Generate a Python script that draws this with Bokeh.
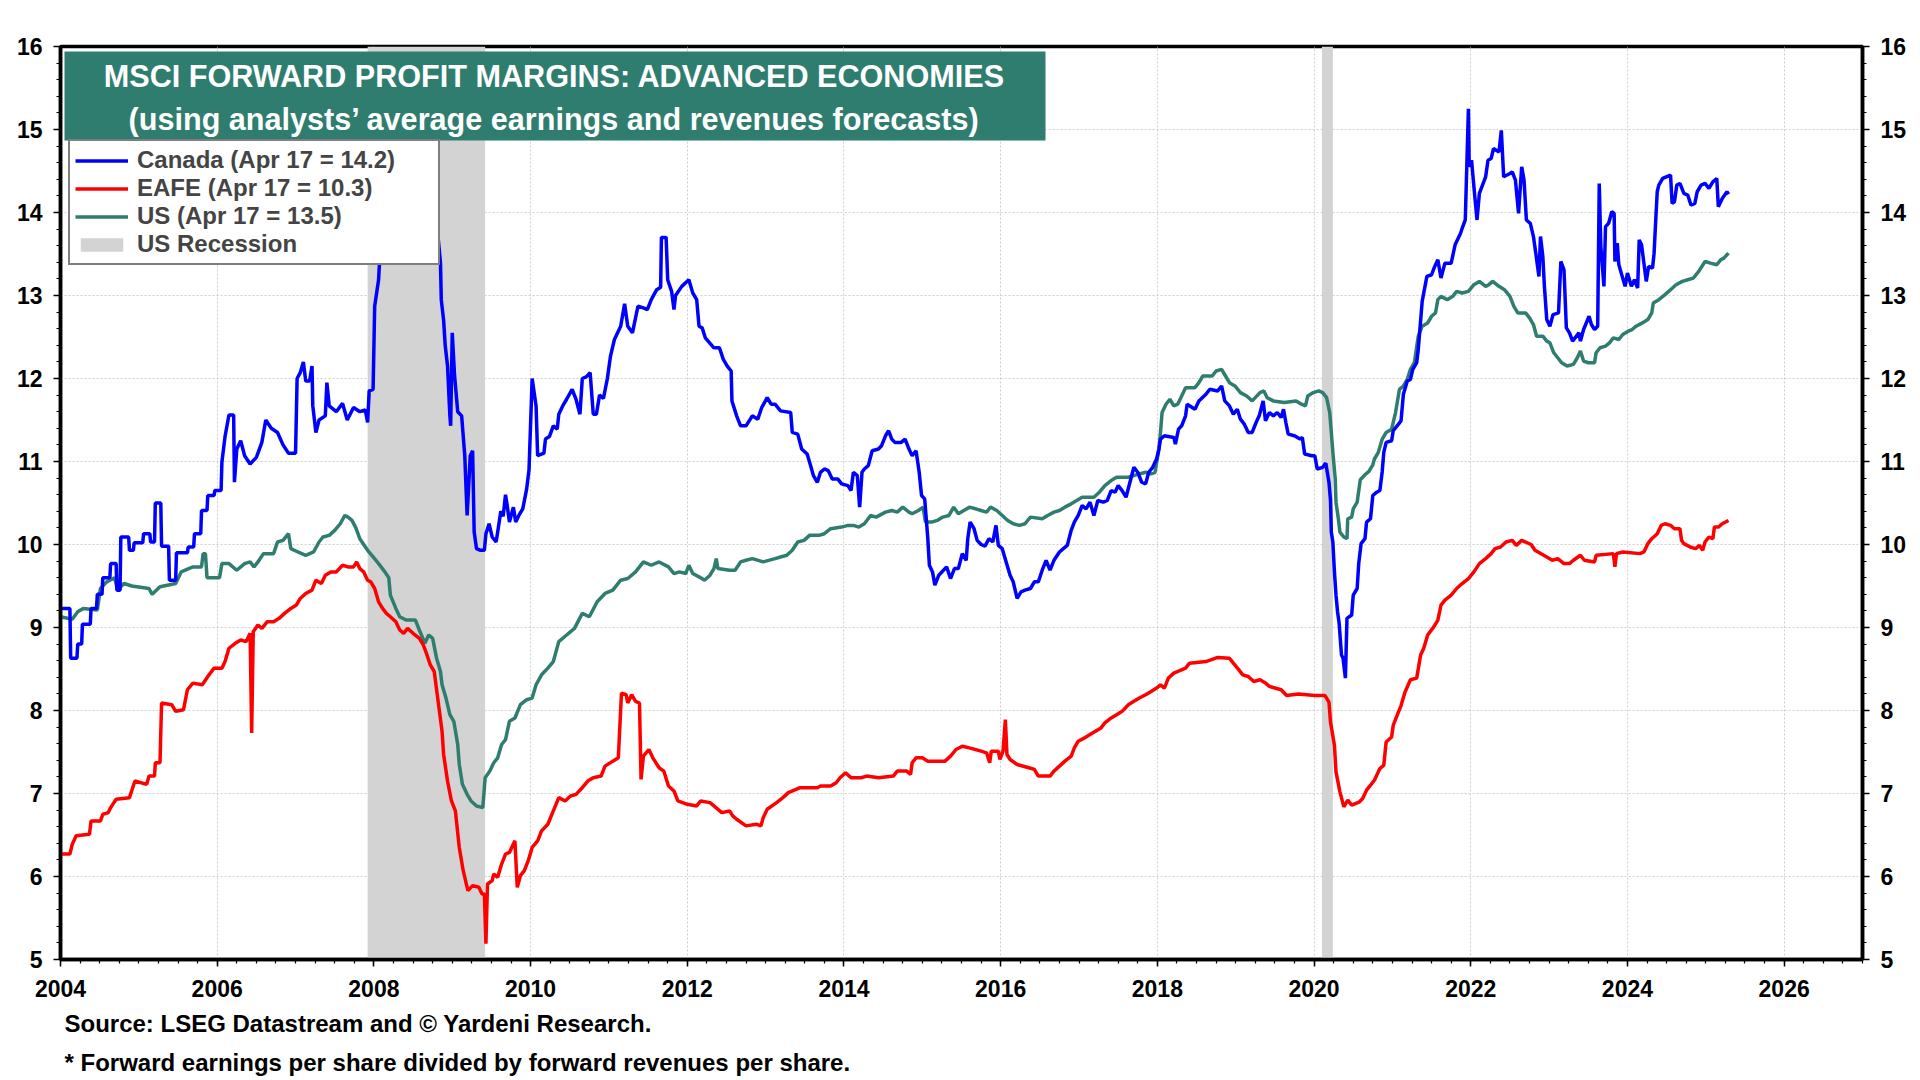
from bokeh.plotting import figure
from bokeh.models import (Label, Legend, LegendItem, LinearAxis, FixedTicker,
                          BoxAnnotation, Range1d, Title)
from bokeh.embed import file_html
from bokeh.resources import INLINE

# ---- data ----
canada_year = [
    2004.00, 2004.12, 2004.13, 2004.21, 2004.22, 2004.27, 2004.28, 2004.38, 2004.39, 2004.46,
    2004.47, 2004.53, 2004.54, 2004.63, 2004.64, 2004.71, 2004.72, 2004.76, 2004.77, 2004.87,
    2004.88, 2004.93, 2004.94, 2005.05, 2005.06, 2005.14, 2005.15, 2005.20, 2005.21, 2005.28,
    2005.29, 2005.38, 2005.39, 2005.47, 2005.48, 2005.62, 2005.63, 2005.70, 2005.71, 2005.79,
    2005.80, 2005.87, 2005.88, 2005.96, 2005.97, 2006.05, 2006.06, 2006.10, 2006.15, 2006.21,
    2006.22, 2006.25, 2006.30, 2006.35, 2006.42, 2006.50, 2006.57, 2006.62, 2006.69, 2006.77,
    2006.84, 2006.91, 2007.00, 2007.02, 2007.06, 2007.10, 2007.13, 2007.18, 2007.21, 2007.22,
    2007.26, 2007.30, 2007.38, 2007.40, 2007.43, 2007.52, 2007.60, 2007.66, 2007.74, 2007.82,
    2007.89, 2007.92, 2007.94, 2007.99, 2008.01, 2008.06, 2008.10, 2008.20, 2008.35, 2008.50,
    2008.65, 2008.80, 2008.85, 2008.86, 2008.89, 2008.91, 2008.94, 2008.97, 2008.98, 2009.00,
    2009.03, 2009.07, 2009.12, 2009.16, 2009.19, 2009.23, 2009.26, 2009.28, 2009.31, 2009.36,
    2009.41, 2009.43, 2009.47, 2009.51, 2009.56, 2009.58, 2009.62, 2009.65, 2009.68, 2009.70,
    2009.73, 2009.78, 2009.81, 2009.85, 2009.90, 2009.95, 2009.98, 2010.02, 2010.07, 2010.09,
    2010.17, 2010.19, 2010.24, 2010.29, 2010.34, 2010.36, 2010.41, 2010.46, 2010.53, 2010.58,
    2010.63, 2010.66, 2010.71, 2010.76, 2010.80, 2010.84, 2010.88, 2010.93, 2010.98, 2011.02,
    2011.07, 2011.15, 2011.20, 2011.24, 2011.30, 2011.37, 2011.44, 2011.49, 2011.54, 2011.61,
    2011.66, 2011.67, 2011.73, 2011.75, 2011.80, 2011.83, 2011.85, 2011.93, 2012.02, 2012.07,
    2012.12, 2012.15, 2012.19, 2012.23, 2012.34, 2012.41, 2012.46, 2012.51, 2012.56, 2012.57,
    2012.63, 2012.68, 2012.75, 2012.83, 2012.90, 2012.95, 2013.02, 2013.07, 2013.12, 2013.19,
    2013.32, 2013.34, 2013.41, 2013.46, 2013.53, 2013.58, 2013.61, 2013.66, 2013.70, 2013.75,
    2013.80, 2013.85, 2013.92, 2013.97, 2014.05, 2014.09, 2014.12, 2014.17, 2014.20, 2014.23,
    2014.26, 2014.31, 2014.36, 2014.44, 2014.48, 2014.53, 2014.57, 2014.61, 2014.65, 2014.73,
    2014.78, 2014.83, 2014.87, 2014.92, 2014.96, 2014.99, 2015.03, 2015.07, 2015.09, 2015.13,
    2015.16, 2015.21, 2015.31, 2015.36, 2015.41, 2015.46, 2015.51, 2015.56, 2015.58, 2015.61,
    2015.66, 2015.70, 2015.75, 2015.80, 2015.85, 2015.90, 2015.94, 2015.97, 2016.02, 2016.07,
    2016.12, 2016.16, 2016.21, 2016.26, 2016.31, 2016.38, 2016.43, 2016.48, 2016.53, 2016.58,
    2016.63, 2016.68, 2016.75, 2016.80, 2016.85, 2016.90, 2016.94, 2016.99, 2017.04, 2017.09,
    2017.14, 2017.19, 2017.24, 2017.31, 2017.36, 2017.41, 2017.46, 2017.50, 2017.55, 2017.60,
    2017.65, 2017.70, 2017.75, 2017.80, 2017.85, 2017.89, 2017.94, 2017.99, 2018.02, 2018.04,
    2018.09, 2018.21, 2018.23, 2018.27, 2018.31, 2018.36, 2018.38, 2018.48, 2018.53, 2018.62,
    2018.67, 2018.77, 2018.82, 2018.86, 2018.92, 2018.97, 2019.02, 2019.06, 2019.11, 2019.16,
    2019.21, 2019.26, 2019.30, 2019.35, 2019.38, 2019.43, 2019.48, 2019.53, 2019.58, 2019.61,
    2019.64, 2019.67, 2019.75, 2019.82, 2019.85, 2019.88, 2019.97, 2020.01, 2020.04, 2020.11,
    2020.15, 2020.19, 2020.21, 2020.22, 2020.24, 2020.26, 2020.28, 2020.30, 2020.32, 2020.35,
    2020.37, 2020.40, 2020.42, 2020.48, 2020.50, 2020.55, 2020.57, 2020.60, 2020.65, 2020.67,
    2020.72, 2020.75, 2020.80, 2020.84, 2020.87, 2020.89, 2020.92, 2020.99, 2021.01, 2021.06,
    2021.11, 2021.14, 2021.19, 2021.23, 2021.26, 2021.31, 2021.33, 2021.38, 2021.40, 2021.44,
    2021.50, 2021.54, 2021.58, 2021.62, 2021.67, 2021.75, 2021.80, 2021.87, 2021.89, 2021.93,
    2021.97, 2021.98, 2022.01, 2022.05, 2022.08, 2022.11, 2022.15, 2022.19, 2022.22, 2022.26,
    2022.29, 2022.36, 2022.39, 2022.42, 2022.50, 2022.53, 2022.57, 2022.61, 2022.65, 2022.68,
    2022.71, 2022.76, 2022.80, 2022.83, 2022.87, 2022.89, 2022.92, 2022.94, 2022.97, 2023.01,
    2023.05, 2023.12, 2023.15, 2023.19, 2023.22, 2023.26, 2023.30, 2023.38, 2023.40, 2023.44,
    2023.51, 2023.54, 2023.58, 2023.62, 2023.64, 2023.66, 2023.70, 2023.72, 2023.76, 2023.80,
    2023.83, 2023.84, 2023.87, 2023.89, 2023.97, 2024.00, 2024.05, 2024.09, 2024.13, 2024.15,
    2024.18, 2024.21, 2024.24, 2024.27, 2024.32, 2024.34, 2024.36, 2024.38, 2024.40, 2024.45,
    2024.55, 2024.57, 2024.60, 2024.63, 2024.67, 2024.72, 2024.77, 2024.81, 2024.86, 2024.89,
    2024.94, 2024.99, 2025.04, 2025.09, 2025.14, 2025.16, 2025.21, 2025.27, 2025.29,
]
canada_val = [
    9.23, 9.23, 8.63, 8.63, 8.80, 8.80, 9.04, 9.04, 9.23, 9.23,
    9.40, 9.40, 9.60, 9.60, 9.77, 9.77, 9.45, 9.45, 10.09, 10.09,
    9.93, 9.93, 10.02, 10.02, 10.13, 10.13, 10.03, 10.03, 10.50, 10.50,
    9.98, 9.98, 9.57, 9.57, 9.90, 9.90, 9.97, 9.97, 10.13, 10.13,
    10.41, 10.41, 10.59, 10.59, 10.65, 10.65, 10.99, 11.30, 11.56, 11.56,
    10.75, 11.15, 11.25, 11.07, 10.97, 11.05, 11.23, 11.50, 11.40, 11.35,
    11.20, 11.10, 11.10, 12.00, 12.07, 12.20, 11.97, 11.97, 12.15, 11.67,
    11.35, 11.50, 11.55, 11.95, 11.67, 11.60, 11.70, 11.50, 11.65, 11.60,
    11.62, 11.47, 11.85, 11.87, 12.87, 13.19, 13.90, 14.35, 14.60, 14.55,
    14.30, 13.90, 13.39, 12.95, 12.70, 12.40, 12.15, 11.55, 11.43, 12.55,
    12.03, 11.60, 11.55, 11.07, 10.35, 11.07, 11.13, 10.15, 9.95, 9.93,
    9.93, 10.13, 10.25, 10.09, 10.03, 10.15, 10.40, 10.34, 10.60, 10.48,
    10.27, 10.45, 10.27, 10.35, 10.43, 10.67, 10.90, 12.00, 11.67, 11.07,
    11.10, 11.27, 11.30, 11.43, 11.39, 11.57, 11.67, 11.75, 11.87, 11.75,
    11.57, 12.00, 12.02, 12.07, 11.57, 11.57, 11.80, 11.76, 12.00, 12.27,
    12.47, 12.63, 12.90, 12.63, 12.55, 12.87, 12.85, 12.83, 12.95, 13.07,
    13.10, 13.70, 13.70, 13.19, 13.05, 12.83, 13.00, 13.11, 13.19, 13.03,
    12.95, 12.63, 12.61, 12.49, 12.37, 12.37, 12.23, 12.15, 12.09, 11.73,
    11.55, 11.43, 11.43, 11.55, 11.51, 11.65, 11.77, 11.69, 11.69, 11.61,
    11.59, 11.35, 11.33, 11.15, 11.09, 10.93, 10.83, 10.75, 10.87, 10.91,
    10.89, 10.79, 10.79, 10.73, 10.71, 10.65, 10.87, 10.83, 10.45, 10.87,
    10.91, 10.95, 11.13, 11.15, 11.19, 11.31, 11.37, 11.27, 11.23, 11.23,
    11.27, 11.15, 11.07, 11.13, 10.87, 10.59, 10.55, 10.07, 9.75, 9.67,
    9.51, 9.63, 9.73, 9.59, 9.71, 9.71, 9.89, 9.81, 10.07, 10.27,
    10.19, 10.05, 10.00, 9.98, 10.07, 10.03, 10.23, 9.99, 9.95, 9.79,
    9.63, 9.55, 9.35, 9.43, 9.45, 9.47, 9.55, 9.55, 9.69, 9.81,
    9.69, 9.81, 9.91, 9.95, 9.99, 10.17, 10.27, 10.35, 10.47, 10.43,
    10.51, 10.35, 10.53, 10.51, 10.53, 10.65, 10.63, 10.71, 10.65, 10.57,
    10.75, 10.93, 10.87, 10.75, 10.73, 10.87, 10.93, 11.03, 11.15, 11.27,
    11.31, 11.29, 11.21, 11.39, 11.43, 11.55, 11.69, 11.63, 11.73, 11.81,
    11.87, 11.85, 11.91, 11.73, 11.67, 11.57, 11.63, 11.51, 11.45, 11.35,
    11.35, 11.47, 11.55, 11.73, 11.49, 11.59, 11.55, 11.59, 11.53, 11.63,
    11.47, 11.33, 11.31, 11.27, 11.29, 11.09, 11.07, 11.07, 10.91, 10.93,
    10.98, 10.75, 10.53, 10.15, 10.03, 9.67, 9.39, 9.19, 9.05, 8.67,
    8.63, 8.39, 9.11, 9.15, 9.39, 9.47, 9.77, 10.01, 10.07, 10.27,
    10.31, 10.59, 10.63, 10.65, 10.88, 11.11, 11.23, 11.25, 11.37, 11.43,
    11.49, 11.81, 11.97, 11.99, 12.11, 12.19, 12.35, 12.93, 13.03, 13.23,
    13.25, 13.35, 13.43, 13.21, 13.39, 13.39, 13.61, 13.75, 13.81, 13.91,
    15.25, 14.55, 14.63, 14.21, 13.91, 14.23, 14.33, 14.43, 14.63, 14.65,
    14.77, 14.73, 14.99, 14.43, 14.47, 14.49, 14.39, 13.99, 14.55, 14.39,
    13.91, 13.87, 13.71, 13.51, 13.23, 13.71, 13.47, 13.11, 12.71, 12.63,
    12.77, 12.79, 13.41, 13.31, 12.61, 12.55, 12.45, 12.55, 12.45, 12.59,
    12.75, 12.65, 12.59, 12.63, 14.35, 13.59, 13.11, 13.83, 13.87, 14.01,
    13.99, 13.41, 13.63, 13.37, 13.11, 13.27, 13.11, 13.19, 13.09, 13.67,
    13.61, 13.39, 13.17, 13.35, 13.33, 13.51, 13.89, 14.25, 14.33, 14.41,
    14.45, 14.11, 14.13, 14.33, 14.35, 14.23, 14.21, 14.09, 14.11, 14.25,
    14.33, 14.35, 14.29, 14.37, 14.41, 14.07, 14.17, 14.25, 14.22,
]

eafe_year = [
    2004.00, 2004.12, 2004.15, 2004.20, 2004.37, 2004.39, 2004.51, 2004.54, 2004.61, 2004.64,
    2004.71, 2004.88, 2004.95, 2005.10, 2005.13, 2005.20, 2005.21, 2005.27, 2005.29, 2005.42,
    2005.47, 2005.57, 2005.62, 2005.69, 2005.81, 2005.88, 2005.96, 2006.06, 2006.10, 2006.15,
    2006.23, 2006.30, 2006.37, 2006.42, 2006.44, 2006.46, 2006.52, 2006.57, 2006.64, 2006.72,
    2006.79, 2006.86, 2006.94, 2007.01, 2007.06, 2007.13, 2007.21, 2007.26, 2007.33, 2007.38,
    2007.45, 2007.52, 2007.60, 2007.67, 2007.74, 2007.78, 2007.82, 2007.87, 2007.92, 2007.96,
    2008.01, 2008.06, 2008.11, 2008.16, 2008.21, 2008.28, 2008.33, 2008.38, 2008.43, 2008.50,
    2008.58, 2008.63, 2008.67, 2008.72, 2008.77, 2008.82, 2008.87, 2008.89, 2008.94, 2008.99,
    2009.04, 2009.09, 2009.14, 2009.20, 2009.26, 2009.34, 2009.38, 2009.41, 2009.43, 2009.45,
    2009.51, 2009.53, 2009.58, 2009.63, 2009.68, 2009.73, 2009.80, 2009.83, 2009.87, 2009.92,
    2009.97, 2010.02, 2010.09, 2010.14, 2010.22, 2010.29, 2010.36, 2010.44, 2010.51, 2010.58,
    2010.66, 2010.73, 2010.80, 2010.90, 2010.95, 2011.05, 2011.12, 2011.16, 2011.22, 2011.24,
    2011.29, 2011.34, 2011.39, 2011.41, 2011.44, 2011.51, 2011.56, 2011.64, 2011.70, 2011.76,
    2011.83, 2011.88, 2012.00, 2012.12, 2012.17, 2012.29, 2012.34, 2012.44, 2012.54, 2012.58,
    2012.63, 2012.75, 2012.88, 2012.94, 2012.97, 2013.02, 2013.14, 2013.22, 2013.29, 2013.44,
    2013.66, 2013.70, 2013.83, 2013.90, 2013.95, 2014.02, 2014.09, 2014.22, 2014.29, 2014.44,
    2014.63, 2014.68, 2014.80, 2014.85, 2014.87, 2014.92, 2015.00, 2015.07, 2015.29, 2015.36,
    2015.43, 2015.51, 2015.60, 2015.75, 2015.82, 2015.86, 2015.88, 2015.97, 2015.99, 2016.03,
    2016.06, 2016.08, 2016.12, 2016.21, 2016.36, 2016.43, 2016.48, 2016.63, 2016.68, 2016.75,
    2016.82, 2016.90, 2016.94, 2016.99, 2017.07, 2017.14, 2017.21, 2017.28, 2017.33, 2017.41,
    2017.48, 2017.55, 2017.63, 2017.70, 2017.77, 2017.85, 2017.92, 2017.99, 2018.04, 2018.09,
    2018.14, 2018.21, 2018.36, 2018.41, 2018.62, 2018.77, 2018.92, 2018.97, 2019.04, 2019.09,
    2019.16, 2019.23, 2019.31, 2019.38, 2019.43, 2019.58, 2019.65, 2019.80, 2020.01, 2020.14,
    2020.19, 2020.21, 2020.26, 2020.28, 2020.33, 2020.38, 2020.43, 2020.48, 2020.58, 2020.62,
    2020.67, 2020.77, 2020.84, 2020.89, 2020.92, 2020.99, 2021.01, 2021.06, 2021.11, 2021.16,
    2021.23, 2021.31, 2021.36, 2021.40, 2021.45, 2021.53, 2021.58, 2021.62, 2021.67, 2021.75,
    2021.82, 2021.89, 2021.97, 2022.04, 2022.11, 2022.19, 2022.26, 2022.31, 2022.38, 2022.45,
    2022.53, 2022.58, 2022.65, 2022.77, 2022.82, 2022.97, 2023.04, 2023.11, 2023.19, 2023.26,
    2023.31, 2023.40, 2023.45, 2023.58, 2023.60, 2023.82, 2023.84, 2023.86, 2023.94, 2024.16,
    2024.21, 2024.26, 2024.31, 2024.38, 2024.43, 2024.48, 2024.55, 2024.60, 2024.67, 2024.69,
    2024.72, 2024.80, 2024.87, 2024.92, 2024.96, 2024.99, 2025.04, 2025.09, 2025.11, 2025.16,
    2025.21, 2025.29,
]
eafe_val = [
    6.27, 6.27, 6.39, 6.49, 6.51, 6.67, 6.67, 6.75, 6.77, 6.83,
    6.93, 6.95, 7.15, 7.11, 7.21, 7.21, 7.37, 7.37, 8.09, 8.07,
    7.99, 8.01, 8.25, 8.33, 8.31, 8.41, 8.51, 8.51, 8.59, 8.75,
    8.81, 8.85, 8.83, 8.93, 7.73, 8.95, 9.03, 8.99, 9.07, 9.07,
    9.11, 9.17, 9.23, 9.27, 9.35, 9.41, 9.45, 9.57, 9.53, 9.63,
    9.67, 9.67, 9.75, 9.73, 9.73, 9.79, 9.71, 9.67, 9.57, 9.55,
    9.47, 9.31, 9.23, 9.17, 9.13, 9.07, 8.97, 8.93, 8.99, 8.93,
    8.87, 8.79, 8.69, 8.55, 8.47, 8.11, 7.75, 7.47, 7.15, 6.91,
    6.79, 6.35, 6.07, 5.83, 5.89, 5.87, 5.79, 5.79, 5.19, 5.91,
    5.95, 6.03, 5.99, 6.15, 6.27, 6.29, 6.43, 5.87, 6.01, 6.07,
    6.19, 6.35, 6.43, 6.55, 6.63, 6.79, 6.95, 6.91, 6.97, 6.99,
    7.07, 7.15, 7.19, 7.21, 7.33, 7.39, 7.43, 8.21, 8.19, 8.09,
    8.19, 8.11, 8.09, 7.17, 7.45, 7.53, 7.43, 7.31, 7.27, 7.09,
    7.03, 6.91, 6.87, 6.85, 6.91, 6.89, 6.85, 6.77, 6.79, 6.73,
    6.69, 6.61, 6.63, 6.61, 6.71, 6.81, 6.89, 6.95, 7.01, 7.07,
    7.07, 7.09, 7.09, 7.13, 7.19, 7.25, 7.19, 7.19, 7.21, 7.19,
    7.21, 7.27, 7.27, 7.23, 7.37, 7.43, 7.43, 7.39, 7.39, 7.45,
    7.53, 7.57, 7.55, 7.51, 7.49, 7.37, 7.51, 7.51, 7.41, 7.51,
    7.89, 7.47, 7.41, 7.35, 7.31, 7.29, 7.21, 7.21, 7.27, 7.33,
    7.39, 7.45, 7.55, 7.63, 7.67, 7.71, 7.75, 7.79, 7.85, 7.91,
    7.95, 7.99, 8.07, 8.11, 8.15, 8.19, 8.23, 8.27, 8.31, 8.27,
    8.39, 8.45, 8.51, 8.57, 8.59, 8.64, 8.63, 8.57, 8.49, 8.43,
    8.41, 8.35, 8.37, 8.33, 8.29, 8.25, 8.18, 8.20, 8.18, 8.18,
    8.10, 7.86, 7.58, 7.26, 7.02, 6.84, 6.92, 6.86, 6.90, 6.94,
    7.04, 7.16, 7.30, 7.34, 7.62, 7.68, 7.82, 7.94, 8.06, 8.22,
    8.37, 8.39, 8.67, 8.75, 8.91, 9.01, 9.09, 9.27, 9.33, 9.39,
    9.47, 9.53, 9.59, 9.67, 9.77, 9.83, 9.89, 9.95, 9.97, 10.03,
    10.05, 9.99, 10.05, 10.00, 9.93, 9.85, 9.81, 9.83, 9.77, 9.77,
    9.81, 9.87, 9.81, 9.79, 9.87, 9.89, 9.73, 9.89, 9.91, 9.89,
    9.91, 10.01, 10.07, 10.13, 10.23, 10.25, 10.23, 10.19, 10.19, 10.05,
    10.01, 9.97, 9.95, 9.99, 9.93, 10.03, 10.09, 10.07, 10.21, 10.21,
    10.25, 10.29,
]

us_year = [
    2004.00, 2004.15, 2004.22, 2004.29, 2004.47, 2004.51, 2004.59, 2004.69, 2004.73, 2004.81,
    2004.91, 2005.13, 2005.17, 2005.27, 2005.47, 2005.54, 2005.69, 2005.80, 2005.82, 2005.85,
    2005.87, 2006.03, 2006.06, 2006.15, 2006.25, 2006.35, 2006.42, 2006.47, 2006.52, 2006.59,
    2006.72, 2006.77, 2006.84, 2006.91, 2006.94, 2007.03, 2007.13, 2007.23, 2007.30, 2007.35,
    2007.43, 2007.50, 2007.57, 2007.63, 2007.67, 2007.72, 2007.77, 2007.82, 2007.87, 2007.92,
    2007.99, 2008.06, 2008.14, 2008.19, 2008.21, 2008.28, 2008.33, 2008.41, 2008.53, 2008.58,
    2008.65, 2008.70, 2008.75, 2008.80, 2008.85, 2008.87, 2008.92, 2008.97, 2009.02, 2009.07,
    2009.09, 2009.13, 2009.19, 2009.24, 2009.31, 2009.39, 2009.42, 2009.48, 2009.53, 2009.58,
    2009.63, 2009.68, 2009.73, 2009.80, 2009.87, 2009.95, 2010.02, 2010.07, 2010.14, 2010.22,
    2010.29, 2010.36, 2010.46, 2010.56, 2010.66, 2010.75, 2010.85, 2010.95, 2011.05, 2011.15,
    2011.24, 2011.34, 2011.44, 2011.54, 2011.64, 2011.76, 2011.83, 2011.90, 2011.98, 2012.02,
    2012.07, 2012.15, 2012.22, 2012.29, 2012.34, 2012.37, 2012.39, 2012.54, 2012.61, 2012.68,
    2012.75, 2012.83, 2012.97, 2013.12, 2013.19, 2013.27, 2013.34, 2013.41, 2013.49, 2013.56,
    2013.68, 2013.75, 2013.83, 2013.97, 2014.05, 2014.12, 2014.19, 2014.26, 2014.34, 2014.41,
    2014.53, 2014.61, 2014.68, 2014.75, 2014.83, 2014.87, 2014.95, 2015.01, 2015.04, 2015.12,
    2015.19, 2015.26, 2015.34, 2015.40, 2015.46, 2015.53, 2015.60, 2015.68, 2015.75, 2015.82,
    2015.87, 2015.95, 2016.02, 2016.09, 2016.16, 2016.24, 2016.31, 2016.38, 2016.53, 2016.60,
    2016.68, 2016.75, 2016.82, 2016.90, 2016.97, 2017.04, 2017.19, 2017.26, 2017.33, 2017.41,
    2017.48, 2017.63, 2017.70, 2017.77, 2017.85, 2017.92, 2017.97, 2018.02, 2018.04, 2018.06,
    2018.11, 2018.16, 2018.21, 2018.26, 2018.31, 2018.36, 2018.48, 2018.53, 2018.58, 2018.70,
    2018.75, 2018.82, 2018.87, 2018.92, 2018.99, 2019.06, 2019.14, 2019.21, 2019.31, 2019.36,
    2019.40, 2019.48, 2019.62, 2019.77, 2019.84, 2019.89, 2019.92, 2019.99, 2020.06, 2020.11,
    2020.16, 2020.20, 2020.22, 2020.24, 2020.27, 2020.28, 2020.31, 2020.33, 2020.38, 2020.42,
    2020.43, 2020.48, 2020.50, 2020.55, 2020.59, 2020.65, 2020.70, 2020.75, 2020.77, 2020.82,
    2020.87, 2020.92, 2020.99, 2021.04, 2021.09, 2021.14, 2021.19, 2021.23, 2021.28, 2021.33,
    2021.38, 2021.45, 2021.50, 2021.55, 2021.58, 2021.62, 2021.70, 2021.77, 2021.82, 2021.89,
    2021.97, 2022.04, 2022.11, 2022.19, 2022.23, 2022.28, 2022.36, 2022.43, 2022.50, 2022.55,
    2022.60, 2022.70, 2022.75, 2022.80, 2022.84, 2022.92, 2022.97, 2023.01, 2023.06, 2023.11,
    2023.16, 2023.23, 2023.31, 2023.36, 2023.40, 2023.44, 2023.50, 2023.58, 2023.60, 2023.65,
    2023.72, 2023.77, 2023.82, 2023.89, 2023.94, 2024.01, 2024.06, 2024.11, 2024.19, 2024.26,
    2024.31, 2024.33, 2024.40, 2024.48, 2024.55, 2024.62, 2024.70, 2024.77, 2024.84, 2024.91,
    2024.99, 2025.06, 2025.14, 2025.19, 2025.23, 2025.29,
]
us_val = [
    9.13, 9.10, 9.19, 9.23, 9.21, 9.47, 9.55, 9.60, 9.45, 9.53,
    9.50, 9.47, 9.40, 9.49, 9.53, 9.67, 9.73, 9.73, 9.89, 9.89,
    9.60, 9.60, 9.77, 9.77, 9.69, 9.77, 9.79, 9.73, 9.79, 9.89,
    9.89, 10.03, 10.05, 10.13, 9.95, 9.91, 9.87, 9.91, 10.03, 10.09,
    10.11, 10.17, 10.25, 10.35, 10.33, 10.29, 10.20, 10.07, 10.00, 9.93,
    9.85, 9.77, 9.67, 9.60, 9.39, 9.23, 9.13, 9.09, 9.09, 8.97,
    8.81, 8.91, 8.87, 8.63, 8.47, 8.31, 8.15, 7.95, 7.87, 7.59,
    7.35, 7.11, 6.99, 6.91, 6.85, 6.83, 7.19, 7.27, 7.37, 7.43,
    7.59, 7.65, 7.87, 7.91, 8.07, 8.13, 8.15, 8.31, 8.43, 8.51,
    8.59, 8.83, 8.91, 8.99, 9.17, 9.13, 9.31, 9.41, 9.45, 9.57,
    9.59, 9.67, 9.79, 9.75, 9.79, 9.73, 9.65, 9.67, 9.65, 9.75,
    9.65, 9.61, 9.57, 9.63, 9.71, 9.83, 9.71, 9.69, 9.69, 9.79,
    9.81, 9.83, 9.79, 9.83, 9.85, 9.87, 9.93, 10.03, 10.05, 10.11,
    10.11, 10.13, 10.19, 10.21, 10.23, 10.23, 10.21, 10.25, 10.35, 10.33,
    10.39, 10.41, 10.39, 10.45, 10.39, 10.37, 10.41, 10.45, 10.27, 10.27,
    10.29, 10.33, 10.35, 10.45, 10.37, 10.41, 10.45, 10.43, 10.41, 10.39,
    10.45, 10.41, 10.35, 10.29, 10.25, 10.23, 10.25, 10.33, 10.31, 10.35,
    10.39, 10.41, 10.45, 10.49, 10.53, 10.57, 10.57, 10.63, 10.71, 10.77,
    10.81, 10.81, 10.83, 10.85, 10.87, 10.85, 10.87, 11.15, 11.35, 11.59,
    11.69, 11.75, 11.67, 11.69, 11.79, 11.89, 11.89, 11.95, 12.03, 12.03,
    12.09, 12.11, 12.03, 11.95, 11.91, 11.83, 11.79, 11.73, 11.83, 11.85,
    11.77, 11.73, 11.71, 11.73, 11.69, 11.67, 11.79, 11.83, 11.85, 11.83,
    11.77, 11.59, 11.35, 11.11, 10.79, 10.51, 10.31, 10.15, 10.09, 10.07,
    10.31, 10.33, 10.43, 10.51, 10.78, 10.84, 10.88, 10.96, 11.03, 11.11,
    11.27, 11.35, 11.39, 11.59, 11.87, 11.91, 11.99, 12.11, 12.19, 12.51,
    12.63, 12.67, 12.75, 12.79, 12.95, 12.99, 12.95, 12.99, 13.05, 13.03,
    13.05, 13.13, 13.17, 13.11, 13.13, 13.17, 13.11, 13.07, 12.99, 12.87,
    12.79, 12.79, 12.73, 12.65, 12.51, 12.51, 12.45, 12.43, 12.31, 12.25,
    12.19, 12.15, 12.17, 12.25, 12.33, 12.21, 12.19, 12.19, 12.31, 12.37,
    12.39, 12.43, 12.49, 12.47, 12.53, 12.57, 12.59, 12.63, 12.67, 12.71,
    12.79, 12.91, 12.95, 13.01, 13.07, 13.13, 13.17, 13.19, 13.21, 13.29,
    13.41, 13.39, 13.37, 13.43, 13.45, 13.51,
]

recession_start = [2007.92, 2020.10]
recession_end = [2009.42, 2020.24]

year_ticks = list(range(2004, 2027, 2))
value_ticks = list(range(5, 17))

TEAL = "#2E7D6F"
FONT = "Liberation Sans"

p = figure(
    width=1912, height=1080,
    x_range=Range1d(2004, 2027), y_range=Range1d(5, 16),
    output_backend="svg", toolbar_location=None,
    min_border_left=60, min_border_right=50,
    min_border_top=46, min_border_bottom=121,
)
p.outline_line_color = "black"
p.outline_line_width = 3.5
p.background_fill_color = "white"
p.border_fill_color = "white"

# recession shading
rec = p.quad(left=recession_start, right=recession_end, bottom=5, top=16,
             fill_color="#D3D3D3", line_color=None)

us = p.line(us_year, us_val, line_color=TEAL, line_width=3.5)
eafe = p.line(eafe_year, eafe_val, line_color="#FF0000", line_width=3.5)
canada = p.line(canada_year, canada_val, line_color="#0000FF", line_width=3.5)

# axes
x_ticker = FixedTicker(ticks=year_ticks,
                       minor_ticks=[2004 + q / 4 for q in range(0, 93)])
y_ticker = FixedTicker(ticks=value_ticks,
                       minor_ticks=[5 + i / 5 for i in range(0, 56)])


def style_axis(ax, ticker):
    ax.ticker = ticker
    ax.axis_line_width = 3.5
    ax.axis_line_color = "black"
    ax.major_tick_in = 0
    ax.major_tick_out = 7
    ax.minor_tick_in = 0
    ax.minor_tick_out = 4
    ax.major_tick_line_width = 1.5
    ax.minor_tick_line_width = 1.2
    ax.major_label_text_font = FONT
    ax.major_label_text_font_style = "bold"
    ax.major_label_text_font_size = "23px"
    ax.major_label_text_color = "black"


style_axis(p.xaxis[0], x_ticker)
p.xaxis[0].major_label_standoff = 13
style_axis(p.yaxis[0], y_ticker)
p.yaxis[0].major_label_standoff = 11

right_axis = LinearAxis()
style_axis(right_axis, y_ticker)
right_axis.major_label_standoff = 11
p.add_layout(right_axis, "right")

p.xgrid.ticker = x_ticker
p.ygrid.ticker = y_ticker
for g in (p.xgrid[0], p.ygrid[0]):
    g.grid_line_color = "#CFCFCF"
    g.grid_line_dash = "2 2"
    g.grid_line_width = 1

# title box
p.add_layout(BoxAnnotation(left=4, right=985, top=908, bottom=819,
                           left_units="screen", right_units="screen",
                           top_units="screen", bottom_units="screen",
                           fill_color=TEAL, fill_alpha=1, line_color=None))
for txt, yy in [("MSCI FORWARD PROFIT MARGINS: ADVANCED ECONOMIES", 884),
                ("(using analysts\u2019 average earnings and revenues forecasts)", 841)]:
    p.add_layout(Label(x=494, y=yy, x_units="screen", y_units="screen", text=txt,
                       text_align="center", text_baseline="middle",
                       text_font=FONT, text_font_style="bold",
                       text_font_size="30.6px", text_color="white"))

# legend
legend = Legend(items=[
    LegendItem(label="Canada (Apr 17 = 14.2)", renderers=[canada]),
    LegendItem(label="EAFE (Apr 17 = 10.3)", renderers=[eafe]),
    LegendItem(label="US (Apr 17 = 13.5)", renderers=[us]),
    LegendItem(label="US Recession", renderers=[rec]),
], location=(8, 694))
legend.label_text_font = FONT
legend.label_text_font_style = "bold"
legend.label_text_font_size = "24px"
legend.label_height = 27
legend.label_width = 296
legend.glyph_width = 53
legend.glyph_height = 17
legend.label_standoff = 9
legend.spacing = 0
legend.padding = 5
legend.margin = 0
legend.border_line_color = "black"
legend.border_line_width = 2.5
legend.background_fill_color = "white"
legend.background_fill_alpha = 1
p.add_layout(legend, "center")

# source notes under the x axis
for txt, so in [("Source: LSEG Datastream and \u00a9 Yardeni Research.", 17),
                ("* Forward earnings per share divided by forward revenues per share.", 2)]:
    p.add_layout(Title(text=txt, align="left", offset=4, standoff=so,
                       text_font=FONT, text_font_style="bold",
                       text_font_size="24px", text_color="black"), "below")

open("out.html", "w", encoding="utf-8").write(file_html(p, INLINE))
